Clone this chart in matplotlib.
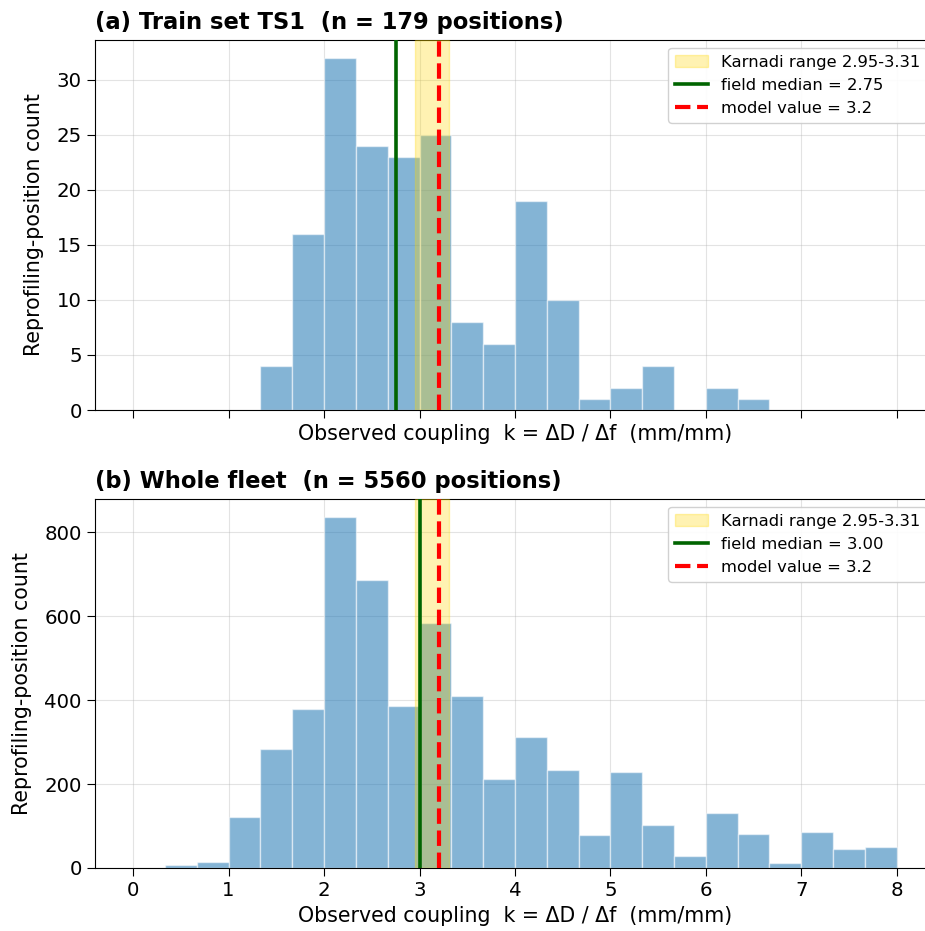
#!/usr/bin/env python3
"""Histogram of observed coupling k for train set TS1 and the whole fleet."""
import numpy as np
import matplotlib.pyplot as plt
from matplotlib.ticker import MultipleLocator

BIN_EDGES = np.linspace(0, 8, 25)  # width 1/3

TS1_COUNTS = [0, 0, 0, 0, 4, 16, 32, 24, 23, 25, 8, 6,
              19, 10, 1, 2, 4, 0, 2, 1, 0, 0, 0, 0]
FLEET_COUNTS = [0, 8, 14, 122, 283, 378, 837, 687, 386, 583, 410, 211,
                311, 234, 78, 229, 102, 28, 131, 82, 12, 85, 46, 50]

TITLES = ["(a) Train set TS1  (n = 179 positions)",
          "(b) Whole fleet  (n = 5560 positions)"]
MEDIANS = [2.75, 3.00]
MEDIAN_LABELS = ["field median = 2.75", "field median = 3.00"]
Y_STEPS = [5, 200]
KARNADI = (2.95, 3.31)
MODEL_K = 3.2

fig = plt.figure(figsize=(9.25, 9.31), dpi=100)
ax_top = fig.add_axes([0.1027, 0.5596, 0.908, 0.3975])
ax_bot = fig.add_axes([0.1027, 0.0677, 0.908, 0.3963], sharex=ax_top)

for ax, counts, title, med, med_lab, step in zip(
        (ax_top, ax_bot), (TS1_COUNTS, FLEET_COUNTS), TITLES, MEDIANS,
        MEDIAN_LABELS, Y_STEPS):
    ax.bar(BIN_EDGES[:-1], counts, width=np.diff(BIN_EDGES), align="edge",
           color="C0", alpha=0.55, edgecolor="white", linewidth=1.0, zorder=2)
    ax.axvspan(*KARNADI, color="gold", alpha=0.3, zorder=3,
               label=f"Karnadi range {KARNADI[0]:.2f}-{KARNADI[1]:.2f}")
    ax.axvline(med, color="darkgreen", lw=2.6, zorder=4, label=med_lab)
    ax.axvline(MODEL_K, color="red", lw=3, ls="--", zorder=5,
               label=f"model value = {MODEL_K}")
    ax.set_title(title, loc="left", fontsize=16.3, fontweight="bold", pad=8)
    ax.set_xlabel("Observed coupling  k = \u0394D / \u0394f  (mm/mm)", fontsize=14.8)
    ax.set_ylabel("Reprofiling-position count", fontsize=14.8, labelpad=9)
    ax.tick_params(labelsize=14.2, length=6)
    ax.yaxis.set_major_locator(MultipleLocator(step))
    ax.grid(True, alpha=0.35)
    ax.set_axisbelow(True)
    ax.legend(loc="upper right", fontsize=11.8, framealpha=0.9)

ax_top.tick_params(labelbottom=False)
ax_bot.set_xticks(range(0, 9))
ax_top.set_xlim(-0.4, 8.4)

fig.savefig("out.png", dpi=100)
